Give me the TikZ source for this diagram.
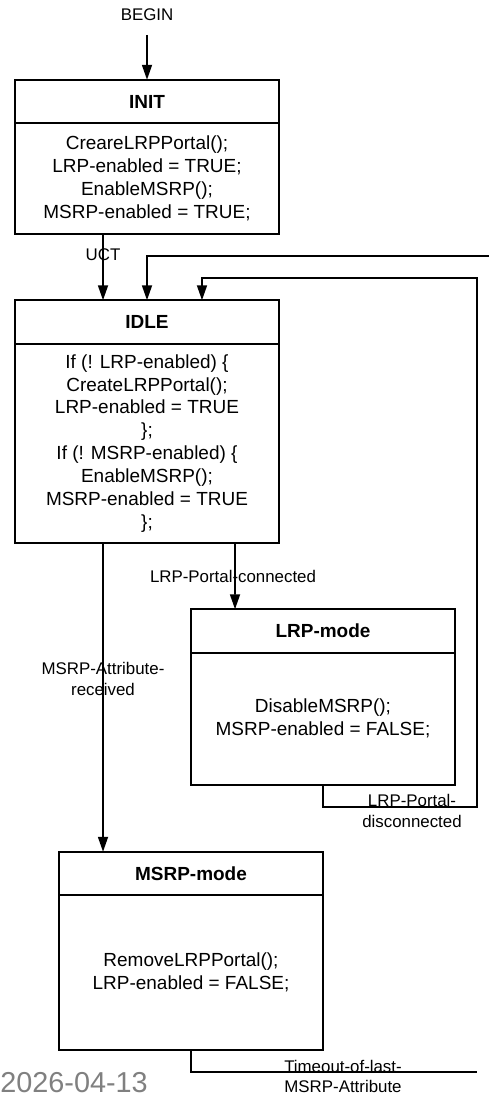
\documentclass[tikz,border=0pt]{standalone}
\usepackage{fontspec}
\setmainfont{Liberation Sans}
\usepackage{xcolor}
\usetikzlibrary{arrows.meta,positioning,calc}
\definecolor{stampgray}{RGB}{128,128,128}
\tikzset{every picture/.append style={x=0.02cm,y=-0.02cm}}
\tikzset{head/.style={draw, line width=1pt, outer sep=0pt, minimum width=5.28cm, minimum height=0.87cm, font=\fontsize{10.8}{13}\selectfont\bfseries}}
\tikzset{body/.style={draw, line width=1pt, outer sep=0pt, minimum width=5.28cm, align=center, font=\fontsize{10.8}{13}\selectfont}}
\tikzset{edge/.style={line width=1pt}}
\tikzset{arc/.style={edge, -{Triangle[width=0.2cm,length=0.3cm]}}}
\tikzset{tlabel/.style={align=center, inner sep=0pt, font=\fontsize{9.6}{11.9}\selectfont}}

\begin{document}
\begin{tikzpicture}
  \useasboundingbox (0,0) rectangle (488,1094);

  \node (begin) at (147,15)[tlabel]{BEGIN};
  \coordinate (start) at (147,35);

  \node (init) at (147,101.5)[head]{INIT};
  \node (initbody) [below=0pt of init, body, minimum height=2.21cm]{CreareLRPPortal();\\LRP-enabled = TRUE;\\EnableMSRP();\\MSRP-enabled = TRUE;};

  \node (idle) at (147,322)[head]{IDLE};
  \node (idlebody) [below=0pt of idle, body, minimum height=3.98cm]{If (! LRP-enabled) \{\\CreateLRPPortal();\\LRP-enabled = TRUE\\\};\\If (! MSRP-enabled) \{\\EnableMSRP();\\MSRP-enabled = TRUE\\\};};

  \node (lrp) at (323,631)[head]{LRP-mode};
  \node (lrpbody) [below=0pt of lrp, body, minimum height=2.64cm]{DisableMSRP();\\MSRP-enabled = FALSE;};

  \node (msrp) at (191,873.5)[head]{MSRP-mode};
  \node (msrpbody) [below=0pt of msrp, body, minimum height=3.1cm]{RemoveLRPPortal();\\LRP-enabled = FALSE;};

  \coordinate (lrpdown) at (477,807);
  \coordinate (lrpup) at (477,278);
  \coordinate (msrpend) at (477,1072);
  \coordinate (msrpup) at (492,256);

  \draw[arc] (start) -- (init.north);
  \draw[arc] ([xshift=-0.88cm]initbody.south) -- ([xshift=-0.88cm]idle.north) node[tlabel, pos=0.32]{UCT};
  \draw[arc] ([xshift=1.76cm]idlebody.south) -- ([xshift=-1.76cm]lrp.north) node[tlabel, pos=0.5, xshift=-0.04cm]{LRP-Portal-connected};
  \draw[arc] ([xshift=-0.88cm]idlebody.south) -- ([xshift=-1.76cm]msrp.north) node[tlabel, pos=0.44]{MSRP-Attribute-\\received};
  \draw[arc] (lrpbody.south) |- (lrpdown) -- (lrpup) -| ([xshift=1.1cm]idle.north);
  \node (lrpoff) at (412,811)[tlabel]{LRP-Portal-\\disconnected};
  \draw[edge] (msrpbody.south) |- (msrpend);
  \node (timeout) at (343,1076.5)[tlabel]{Timeout-of-last-\\MSRP-Attribute};
  \draw[arc] (msrpup) -| (idle.north);

  \node (stamp) at (0,1092)[anchor=base west, inner sep=0pt, text=stampgray, font=\fontsize{16.4}{18}\selectfont]{2026-04-13};
\end{tikzpicture}
\end{document}
